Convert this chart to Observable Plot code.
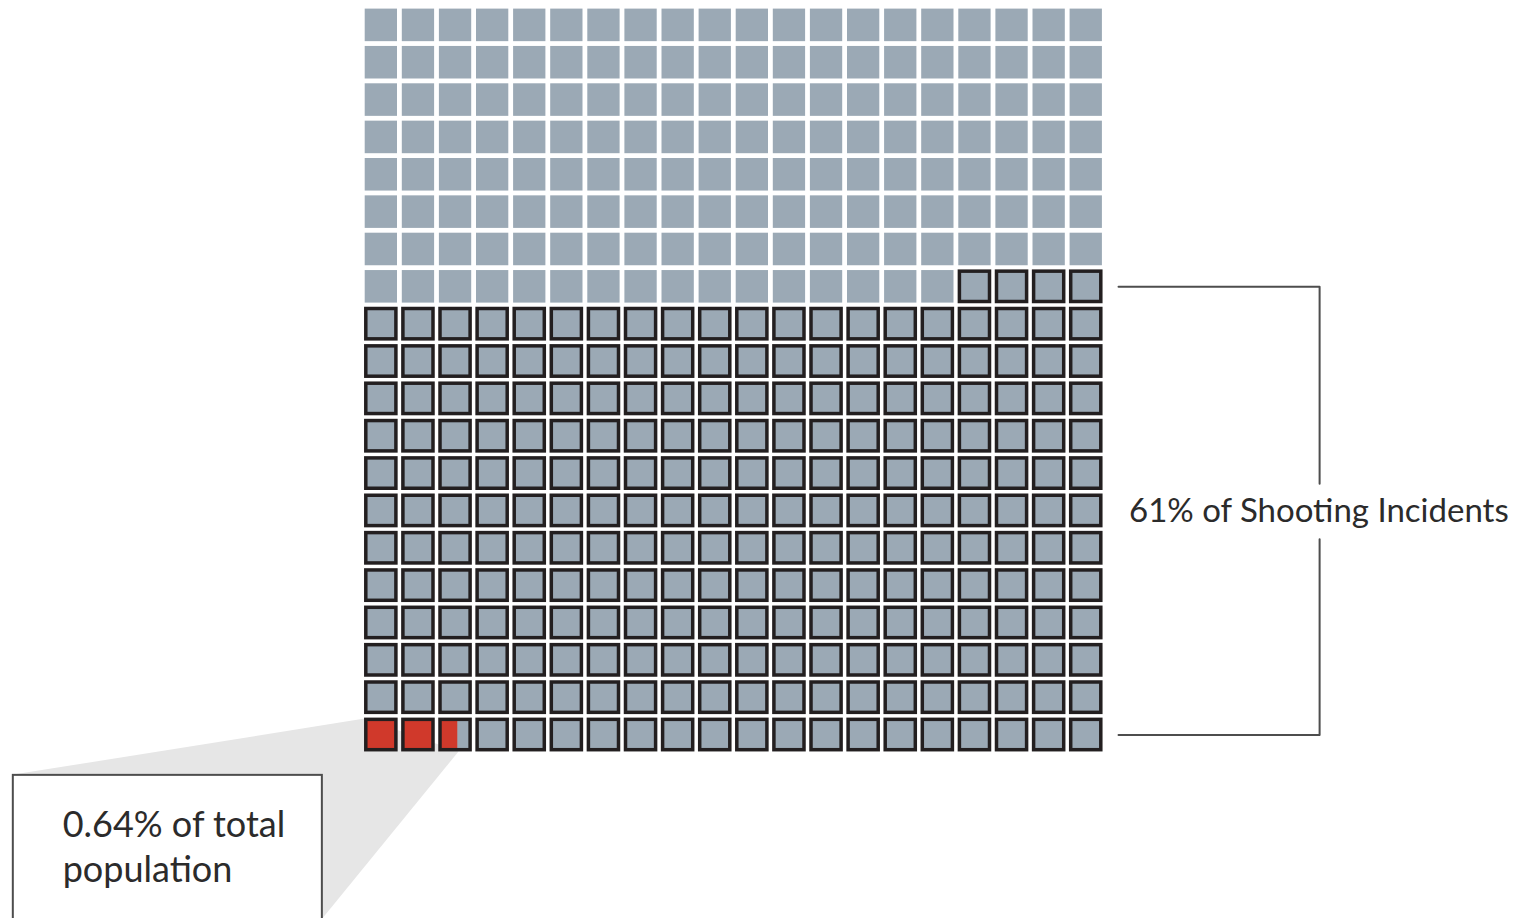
<!DOCTYPE html>
<html><head><meta charset="utf-8">
<script src="https://cdn.jsdelivr.net/npm/d3@7"></script>
<script src="https://cdn.jsdelivr.net/npm/@observablehq/plot@0.6"></script>
<style>html,body{margin:0;padding:0;background:#fff;overflow:hidden}#chart svg{display:block}</style>
</head><body><div id="chart"></div>
<script>
// ---- data ----
const gridCols = 20;
const gridRows = 20;
const shareNames = ["Shooting incidents", "Total population"];
const shareValues = [61, 0.64]; // percent
const shareLabels = ["61% of Shooting Incidents", "0.64% of total\npopulation"];

// ---- derived waffle cells ----
const total = gridCols * gridRows;
const cells = d3.range(total).map(i => ({i, col: i % gridCols, row: Math.floor(i / gridCols)}));
const nShoot = Math.round(total * shareValues[0] / 100);
const shootCells = cells.filter(d => d.i >= total - nShoot);
const plainCells = cells.filter(d => d.i < total - nShoot);
const popUnits = total * shareValues[1] / 100;
const redFull = d3.range(Math.floor(popUnits)).map(k => ({col: k, row: gridRows - 1}));
const redPart = [{col: Math.floor(popUnits), row: gridRows - 1, frac: popUnits - Math.floor(popUnits)}];
const firstShootRow = shootCells[0].row;

const GRAY = "#9ba9b5", RED = "#d0392b", DARK = "#231f20", LINE = "#4d4d4d";
const FONT = "Lato, 'Open Sans', sans-serif";

const bx1 = gridCols + 0.37, bx2 = gridCols + 5.79;
const byTop = firstShootRow + 0.5, byBot = gridRows - 0.5;
const redEnd = redPart[0].col + redPart[0].frac;

const wedge = [
  {x: -9.42, y: gridRows + 0.56},
  {x: 0.05, y: gridRows - 1 + 0.06},
  {x: redEnd + 0.02, y: gridRows - 0.06},
  {x: -1.09, y: gridRows + 4.41}
];

const chart = Plot.plot({
  width: 1521, height: 918,
  margin: 0,
  x: {domain: [0, gridCols], range: [362.3, 1104.3], axis: null},
  y: {domain: [0, gridRows], range: [6.2, 753.2], axis: null},
  style: {fontFamily: FONT, background: "white"},
  marks: [
    Plot.line(wedge, {x: "x", y: "y", fill: "#e6e6e6", stroke: "none"}),
    Plot.rect([0], {x1: -9.42, x2: -1.09, y1: gridRows + 0.58, y2: gridRows + 4.9, fill: "white", stroke: LINE, strokeWidth: 2}),
    Plot.rect(plainCells, {x1: "col", x2: d => d.col + 1, y1: "row", y2: d => d.row + 1, fill: GRAY, inset: 2.4}),
    Plot.rect(shootCells, {x1: "col", x2: d => d.col + 1, y1: "row", y2: d => d.row + 1, fill: GRAY, inset: 3.5}),
    Plot.rect(redFull, {x1: "col", x2: d => d.col + 1, y1: "row", y2: d => d.row + 1, fill: RED, inset: 3.5}),
    Plot.rect(redPart, {x1: "col", x2: d => d.col + d.frac, y1: "row", y2: d => d.row + 1, fill: RED, insetLeft: 3.5, insetTop: 3.5, insetBottom: 3.5, insetRight: 0}),
    Plot.rect(shootCells, {x1: "col", x2: d => d.col + 1, y1: "row", y2: d => d.row + 1, fill: "none", stroke: DARK, strokeWidth: 3.5, inset: 3.5}),
    Plot.line([[bx1, byTop], [bx2, byTop], [bx2, 12.77]], {stroke: LINE, strokeWidth: 2}),
    Plot.line([[bx2, 14.26], [bx2, byBot], [bx1, byBot]], {stroke: LINE, strokeWidth: 2}),
    Plot.text([shareLabels[0]], {x: bx2 - 0.02, y: 13.8, text: d => d, textAnchor: "middle", lineAnchor: "bottom", fontSize: 33, fill: "#2b2b2b"}),
    Plot.text(shareLabels[1].split("\n"), {x: -8.09, y: (d, i) => 22.24 + i * 1.205, text: d => d, textAnchor: "start", lineAnchor: "bottom", fontSize: 36, fill: "#2b2b2b"})
  ]
});
document.getElementById("chart").append(chart);
</script>
</body></html>
